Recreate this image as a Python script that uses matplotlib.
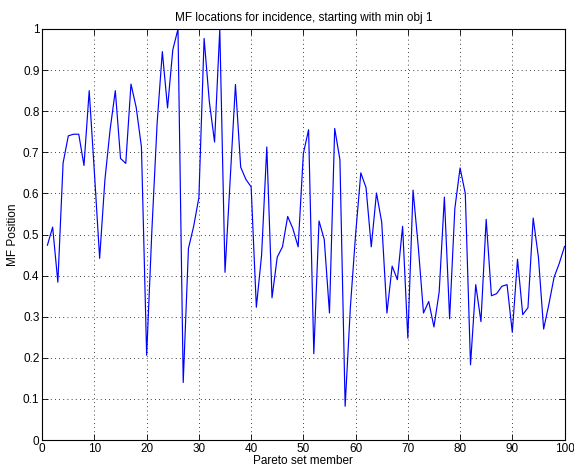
import matplotlib
matplotlib.use("Agg")
import matplotlib.pyplot as plt

members = list(range(1, 101))
positions = [
    0.474, 0.518, 0.384, 0.674, 0.740, 0.744, 0.744, 0.668, 0.850, 0.650,
    0.442, 0.632, 0.755, 0.850, 0.685, 0.673, 0.866, 0.809, 0.713, 0.206,
    0.510, 0.770, 0.945, 0.808, 0.949, 1.000, 0.140, 0.466, 0.520, 0.590,
    0.977, 0.823, 0.725, 1.000, 0.408, 0.636, 0.865, 0.664, 0.634, 0.616,
    0.323, 0.449, 0.713, 0.346, 0.445, 0.470, 0.544, 0.514, 0.470, 0.697,
    0.755, 0.210, 0.533, 0.488, 0.309, 0.758, 0.682, 0.082, 0.323, 0.500,
    0.650, 0.614, 0.470, 0.601, 0.530, 0.309, 0.423, 0.390, 0.520, 0.248,
    0.608, 0.470, 0.309, 0.337, 0.275, 0.360, 0.591, 0.295, 0.563, 0.662,
    0.600, 0.183, 0.378, 0.288, 0.537, 0.351, 0.356, 0.374, 0.378, 0.262,
    0.440, 0.305, 0.322, 0.540, 0.445, 0.270, 0.330, 0.396, 0.430, 0.471,
]
xticks = [0, 10, 20, 30, 40, 50, 60, 70, 80, 90, 100]
yticks = [0, 0.1, 0.2, 0.3, 0.4, 0.5, 0.6, 0.7, 0.8, 0.9, 1]
yticklabels = ["0", "0.1", "0.2", "0.3", "0.4", "0.5", "0.6", "0.7", "0.8", "0.9", "1"]

plt.rcParams['font.family'] = ['Liberation Sans', 'DejaVu Sans']
fig = plt.figure(figsize=(5.74, 4.70), dpi=100)
ax = fig.add_axes([0.0735, 0.0638, 0.9100, 0.8745])
ax.plot(members, positions, color=(0, 0, 1), linewidth=0.85)
ax.set_xlim(0, 100)
ax.set_ylim(0, 1)
ax.set_xticks(xticks)
ax.set_yticks(yticks)
ax.set_yticklabels(yticklabels)
ax.grid(True, color='black', linestyle=(0, (1, 4)), linewidth=0.6)
ax.tick_params(direction='in', top=True, right=True, labelsize=8.5, length=4, width=0.6, pad=2)
for s in ax.spines.values():
    s.set_linewidth(0.8)
ax.set_title("MF locations for incidence, starting with min obj 1", fontsize=8.5, pad=6)
ax.set_xlabel("Pareto set member", fontsize=8.5, labelpad=0)
ax.set_ylabel("MF Position", fontsize=8.5, labelpad=3)
fig.savefig("out.png", dpi=100)
